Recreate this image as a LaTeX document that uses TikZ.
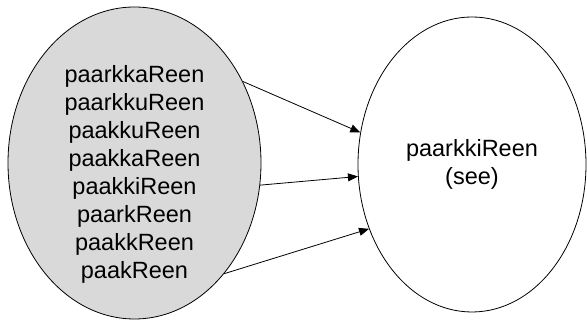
\documentclass[tikz,border=0pt]{standalone}
\usepackage{fontspec}
\setmainfont{Liberation Sans}
\usepackage{tikz}
\usetikzlibrary{shapes.geometric, arrows.meta}

\begin{document}
\begin{tikzpicture}[x=1pt, y=1pt, line width=0.8pt, every node/.style={font=\fontsize{23.5}{28}\selectfont, align=center, inner sep=0pt}]
\useasboundingbox (0,0) rectangle (587,320);

\node(L)[ellipse, draw, fill=gray!30, minimum width=253pt, minimum height=312pt] at (134.5,157) {};
\node(Lwords) at (134.5,145.5) {paarkkaReen\\paarkkuReen\\paakkuReen\\paakkaReen\\paakkiReen\\paarkReen\\paakkReen\\paakReen};

\node(R)[ellipse, draw, minimum width=228pt, minimum height=295pt] at (472,155.5) {paarkkiReen\\(see)};

\draw[-{Triangle[length=10pt, width=8pt]}] (L.37) -- (R.164);
\draw[-{Triangle[length=10pt, width=8pt]}] (L.-10) -- (R.186);
\draw[-{Triangle[length=10pt, width=8pt]}] (L.-51) -- (R.212);
\end{tikzpicture}
\end{document}
